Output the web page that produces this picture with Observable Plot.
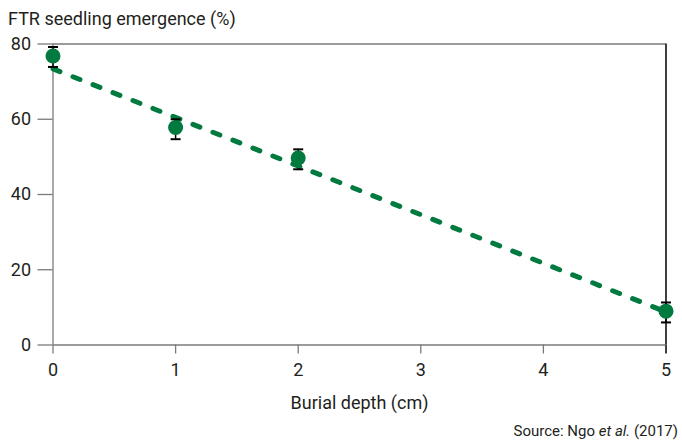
<!DOCTYPE html>
<html>
<head>
<meta charset="utf-8">
<script src="https://cdn.jsdelivr.net/npm/d3@7"></script>
<script src="https://cdn.jsdelivr.net/npm/@observablehq/plot@0.6"></script>
<style>
  html, body { margin: 0; padding: 0; background: #fff; }
  #wrap { position: relative; width: 682px; height: 441px; font-family: Roboto, "Liberation Sans", sans-serif; color: #231f20; }
  #ylabel { position: absolute; left: 8px; top: 5px; font-size: 18px; line-height: 28px; white-space: nowrap; }
  #source { position: absolute; right: 4px; top: 421px; font-size: 15px; line-height: 20px; white-space: nowrap; }
  #chart { position: absolute; left: 0; top: 0; }
</style>
</head>
<body>
<div id="wrap">
  <div id="chart"></div>
  <div id="ylabel">FTR seedling emergence (%)</div>
  <div id="source">Source: Ngo <i>et al.</i> (2017)</div>
</div>
<script>
// Data
const depth = [0, 1, 2, 5];               // burial depth (cm)
const emergence = [76.8, 57.8, 49.7, 9.0]; // FTR seedling emergence (%)
const errLow = [73.9, 54.7, 46.7, 6.0];
const errHigh = [79.2, 60.0, 52.0, 11.3];
const trendX = [0, 5];
const trendY = [73.4, 8.8];
const xTicks = [0, 1, 2, 3, 4, 5];
const yTicks = [0, 20, 40, 60, 80];

const points = depth.map((d, i) => ({x: d, y: emergence[i], lo: errLow[i], hi: errHigh[i]}));
const trend = trendX.map((d, i) => ({x: d, y: trendY[i]}));

const green = "#007a3e";
const gray = "#7a7a7a";
const capSymbol = {
  draw(context, size) {
    context.moveTo(-5, 0);
    context.lineTo(5, 0);
  }
};

const chart = Plot.plot({
  width: 682,
  height: 441,
  marginTop: 43.5,
  marginBottom: 96.5,
  marginLeft: 52.5,
  marginRight: 16.5,
  style: {fontFamily: "Roboto, 'Liberation Sans', sans-serif", fontSize: "18px", color: "#231f20", background: "transparent"},
  x: {domain: [0, 5]},
  y: {domain: [0, 80]},
  marks: [
    Plot.axisY({ticks: yTicks, tickFormat: "d", tickSize: 15, tickPadding: 7, stroke: gray, strokeWidth: 1.3, fontSize: 18, label: null}),
    Plot.axisX({ticks: xTicks.slice(0, 5), tickFormat: "d", tickSize: 9, tickPadding: 9.5, stroke: gray, strokeWidth: 1.3, fontSize: 18, label: null}),
    Plot.axisX({ticks: [xTicks[5]], tickFormat: "d", tickSize: 9, tickPadding: 9.5, stroke: "#000", strokeWidth: 1.5, fontSize: 18, label: null}),
    Plot.axisX({ticks: [], label: "Burial depth (cm)", labelArrow: "none", labelAnchor: "center", labelOffset: 64, fontSize: 18}),
    Plot.ruleX([0], {y1: 0, y2: 80, stroke: gray, strokeWidth: 1.3}),
    Plot.ruleY([0, 80], {x1: 0, x2: 5, stroke: gray, strokeWidth: 1.3}),
    Plot.ruleX([5], {y1: 0, y2: 80, stroke: "#000", strokeWidth: 1.5}),
    Plot.ruleX(points, {x: "x", y1: "lo", y2: "hi", stroke: "#000", strokeWidth: 1.5}),
    Plot.line(trend, {x: "x", y: "y", stroke: green, strokeWidth: 5, strokeDasharray: "7.5,14", strokeLinecap: "round"}),
    Plot.dot(points, {x: "x", y: "y", r: 7.5, fill: green, stroke: "none"}),
    Plot.dot(points, {x: "x", y: "lo", symbol: capSymbol, r: 5, stroke: "#000", strokeWidth: 2, fill: "none"}),
    Plot.dot(points, {x: "x", y: "hi", symbol: capSymbol, r: 5, stroke: "#000", strokeWidth: 2, fill: "none"})
  ]
});
document.getElementById("chart").appendChild(chart);
</script>
</body>
</html>
